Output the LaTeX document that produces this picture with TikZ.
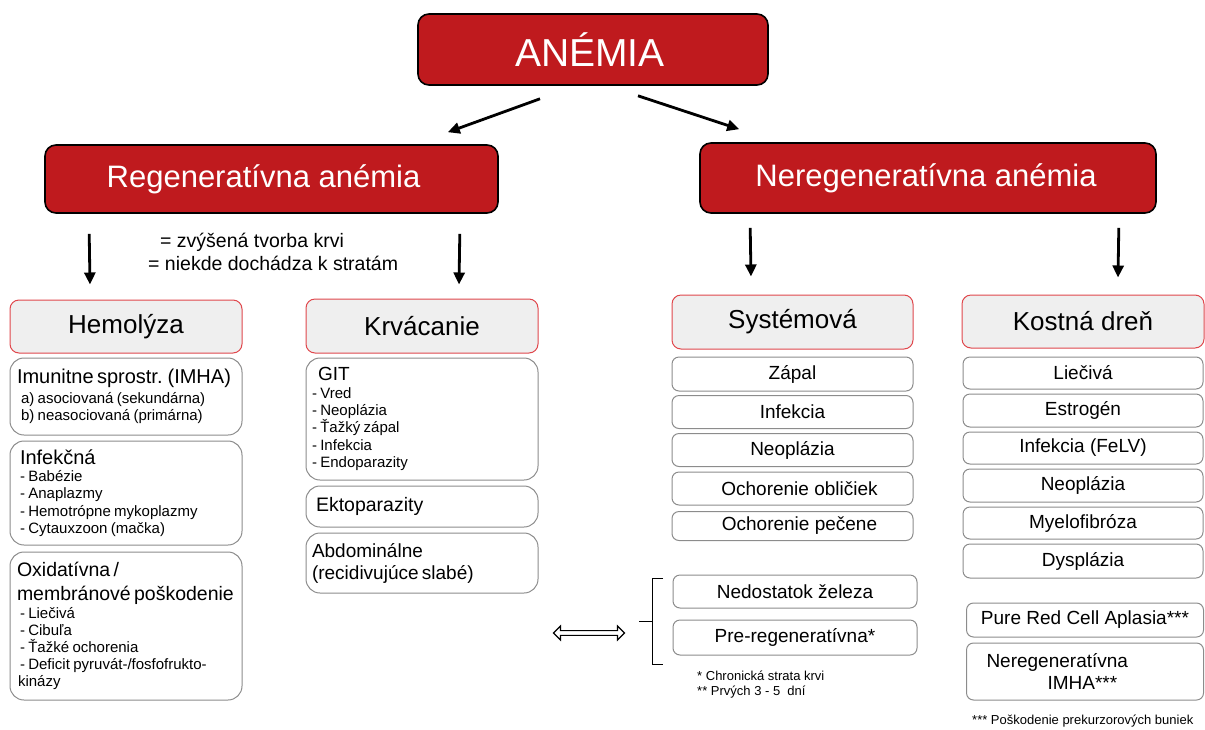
\documentclass[tikz,border=0pt]{standalone}
\usepackage{fontspec}
\setmainfont{Liberation Sans}
\usetikzlibrary{arrows.meta,shapes.arrows}
\definecolor{hred}{HTML}{BF1A1E}
\definecolor{hgray}{HTML}{EFEFEF}
\definecolor{hline}{HTML}{E0474C}
\definecolor{bline}{HTML}{8C8C8C}
\begin{document}
\begin{tikzpicture}[x=1pt,y=-1pt,
  redhdr/.style={draw=black, line width=1.6pt, fill=hred, rounded corners=11pt, text=white, inner sep=0pt},
  grayhdr/.style={draw=hline, line width=1pt, fill=hgray, rounded corners=9pt, inner sep=0pt, font=\fontsize{26}{30}\selectfont},
  item/.style={draw=bline, line width=1pt, rounded corners=7pt, inner sep=0pt, font=\fontsize{19}{22}\selectfont},
  lbox/.style={draw=bline, line width=1pt, rounded corners=14pt, inner xsep=3pt, inner ysep=0pt, align=left, text width=226pt},
  arr/.style={line width=2.8pt, -{Triangle[length=12pt,width=11pt]}},
  note/.style={inner sep=0pt, font=\fontsize{13}{15.5}\selectfont, anchor=west}
]
\useasboundingbox (0,0) rectangle (1205,729);

% top level
\node[redhdr, minimum width=350pt, minimum height=71pt, font=\fontsize{39}{44}\selectfont] (anemia) at (593,49.5) {\hspace*{-6pt}ANÉMIA};
\node[redhdr, minimum width=453pt, minimum height=68pt, font=\fontsize{31}{36}\selectfont] (reg) at (271.5,179) {\hspace*{-16pt}Regeneratívna anémia};
\node[redhdr, minimum width=456pt, minimum height=70pt, font=\fontsize{31}{36}\selectfont] (nereg) at (928,178) {\hspace*{-4pt}Neregeneratívna anémia};

% headers
\node[grayhdr, minimum width=232pt, minimum height=53pt] (hemo) at (126,326.5) {Hemolýza};
\node[grayhdr, minimum width=232pt, minimum height=54pt] (krv) at (422,326) {Krvácanie};
\node[grayhdr, minimum width=241pt, minimum height=54pt] (syst) at (792.5,322) {Systémová};
\node[grayhdr, minimum width=242pt, minimum height=53pt] (kost) at (1083,321.5) {Kostná dreň};

% explanation
\node[inner sep=0pt, anchor=west, align=left, font=\fontsize{19.5}{23}\selectfont] (desc) at (148,251.5)
  {\hspace*{12pt}= zvýšená tvorba krvi\\= niekde dochádza k stratám};

% arrows
\draw[arr] ([xshift=-53pt,yshift=-13pt]anemia.south) -- ([xshift=-51pt,yshift=12pt]reg.north east);
\draw[arr] ([xshift=45pt,yshift=-10pt]anemia.south) -- ([xshift=40pt,yshift=13pt]nereg.north west);
\draw[arr] ([xshift=45pt,yshift=-20pt]reg.south west) -- ([xshift=-36pt,yshift=15pt]hemo.north);
\draw[arr] ([xshift=-39pt,yshift=-20pt]reg.south east) -- ([xshift=37pt,yshift=14pt]krv.north);
\draw[arr] ([xshift=51pt,yshift=-14pt]nereg.south west) -- ([xshift=-41.5pt,yshift=18pt]syst.north);
\draw[arr] ([xshift=-38pt,yshift=-14pt]nereg.south east) -- ([xshift=35pt,yshift=17pt]kost.north);

% Hemolyza column
\node[lbox, minimum height=77pt] (imun) at (126,396.5) {%
  {\fontsize{20}{24}\selectfont\leftskip=4pt Imunitne sprostr. (IMHA)\par}\vspace{3pt}%
  {\fontsize{15}{17.3}\selectfont\leftskip=8pt a) asociovaná (sekundárna)\par b) neasociovaná (primárna)\par}};
\node[lbox, minimum height=104pt] (infek) at (126,493) {%
  {\fontsize{20}{24}\selectfont\leftskip=7pt Infekčná\par}%
  {\fontsize{15}{17.3}\selectfont\leftskip=7pt - Babézie\par - Anaplazmy\par - Hemotrópne mykoplazmy\par - Cytauxzoon (mačka)\par}};
\node[lbox, minimum height=148pt] (oxid) at (126,626) {%
  {\fontsize{19.5}{24}\selectfont\leftskip=4pt Oxidatívna /\par membránové poškodenie\par}\vspace{1pt}%
  {\fontsize{15}{17}\selectfont
   {\leftskip=7pt - Liečivá\par}{\leftskip=7pt - Cibuľa\par}{\leftskip=7pt - Ťažké ochorenia\par}%
   {\leftskip=7pt - Deficit pyruvát-/fosfofrukto-\par}{\leftskip=5pt kinázy\par}}};

% Krvacanie column
\node[lbox, minimum height=122pt] (git) at (422,419) {%
  {\fontsize{19}{22}\selectfont\leftskip=9pt GIT\par}%
  {\fontsize{15}{17.3}\selectfont\leftskip=3pt - Vred\par - Neoplázia\par - Ťažký zápal\par - Infekcia\par - Endoparazity\par}};
\node[lbox, minimum height=41pt] (ekto) at (422,506.5) {%
  {\fontsize{19.5}{22}\selectfont\leftskip=7pt Ektoparazity\par}};
\node[lbox, minimum height=60pt] (abdo) at (422,563) {%
  {\fontsize{19}{22}\selectfont\leftskip=3pt Abdominálne\par (recidivujúce slabé)\par}};

% Systemova column
\node[item, minimum width=241pt, minimum height=34pt] (zapal) at (792.5,374) {Zápal};
\node[item, minimum width=241pt, minimum height=33pt] (sinf) at (792.5,412) {Infekcia};
\node[item, minimum width=241pt, minimum height=33pt] (sneo) at (792.5,450) {Neoplázia};
\node[item, minimum width=241pt, minimum height=33pt] (oblic) at (792.5,488.5) {\hspace*{14pt}Ochorenie obličiek};
\node[item, minimum width=241pt, minimum height=29pt] (pecen) at (792.5,526) {\hspace*{14pt}Ochorenie pečene};
\node[item, minimum width=244pt, minimum height=33pt] (zelezo) at (795,591.5) {Nedostatok železa};
\node[item, minimum width=244pt, minimum height=35pt] (prereg) at (795,637.5) {Pre-regeneratívna*};

% bracket and double arrow
\draw[line width=1pt] (663,578) -- (652,578) -- (652,664) -- (663,664);
\draw[line width=1pt] (639,621) -- (652,621);
\node[double arrow, draw=black, fill=white, line width=1.1pt, inner sep=1.8pt,
      minimum width=14pt, minimum height=71pt, double arrow head extend=4.5pt] (dbl) at (589,633) {};

\node[note] (fn1) at (697,676) {* Chronická strata krvi};
\node[note] (fn2) at (697,692) {** Prvých 3 - 5\ \ dní};

% Kostna dren column
\node[item, minimum width=240pt, minimum height=32pt] (liec) at (1083,373) {Liečivá};
\node[item, minimum width=240pt, minimum height=33pt] (estr) at (1083,410.5) {Estrogén};
\node[item, minimum width=240pt, minimum height=32pt] (felv) at (1083,448) {Infekcia (FeLV)};
\node[item, minimum width=240pt, minimum height=33pt] (kneo) at (1083,485.5) {Neoplázia};
\node[item, minimum width=240pt, minimum height=32pt] (myelo) at (1083,523) {Myelofibróza};
\node[item, minimum width=240pt, minimum height=34pt] (dysp) at (1083,561) {Dysplázia};
\node[item, minimum width=237pt, minimum height=34pt] (prca) at (1085,620) {Pure Red Cell Aplasia***};
\node[item, minimum width=237pt, minimum height=57pt, align=left, text width=225pt] (nimha) at (1085,671.5) {%
  {\leftskip=14pt Neregeneratívna\par}{\leftskip=75pt IMHA***\par}};
\node[note] (fn3) at (972,721) {*** Poškodenie prekurzorových buniek};
\end{tikzpicture}
\end{document}
